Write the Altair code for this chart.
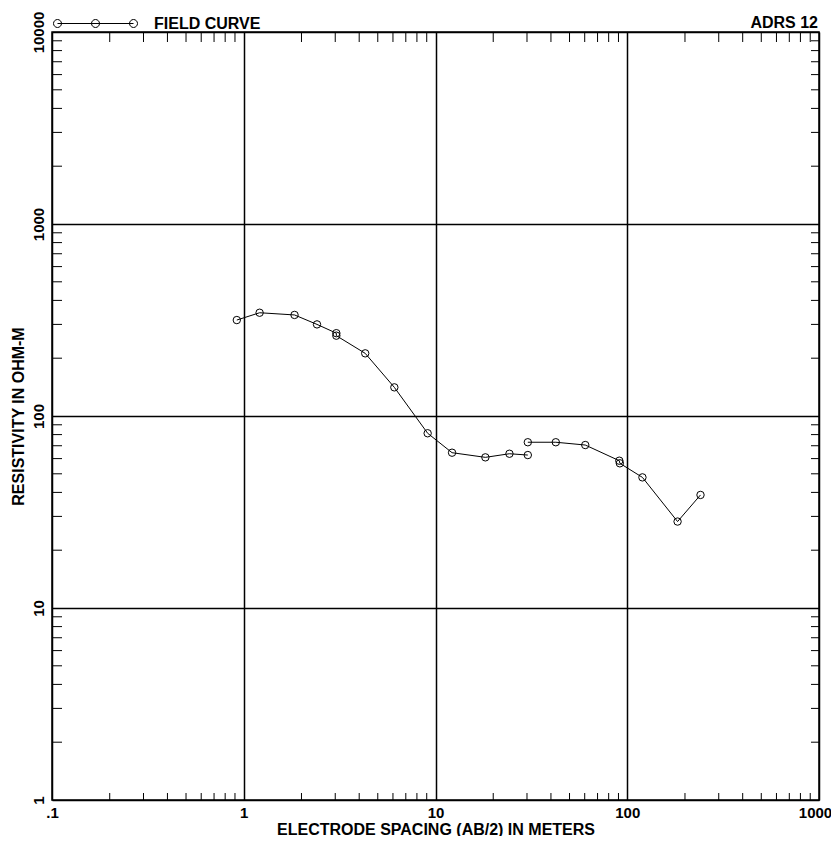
import altair as alt
import pandas as pd

# ---- data ----
seg1_x = [0.92, 1.21, 1.84, 2.41, 3.04, 3.04, 4.3, 6.1, 9.1, 12.2, 18.2, 24.3, 30.3]
seg1_y = [316, 345, 336, 300, 270, 262, 212, 141, 81.3, 64.4, 60.9, 63.6, 62.6]
seg2_x = [30.3, 42.4, 60.4, 90.9, 91.5, 120, 183, 241]
seg2_y = [73.0, 73.0, 70.6, 58.5, 56.7, 47.9, 28.2, 38.8]

x_major = [0.1, 1, 10, 100, 1000]
y_major = [1, 10, 100, 1000, 10000]
minor_mult = [2, 3, 4, 5, 6, 7, 8, 9]
series_name = "FIELD CURVE"
corner_label = "ADRS 12"
x_title = "ELECTRODE SPACING (AB/2) IN METERS"
y_title = "RESISTIVITY IN OHM-M"

rows = []
i = 0
for seg, (xs, ys) in enumerate([(seg1_x, seg1_y), (seg2_x, seg2_y)]):
    for xv, yv in zip(xs, ys):
        rows.append({"x": xv, "y": yv, "seg": seg, "idx": i, "series": series_name})
        i += 1
df = pd.DataFrame(rows)

x_minor = pd.DataFrame({"v": [m * d for d in x_major[:-1] for m in minor_mult]})
y_minor = pd.DataFrame({"v": [m * d for d in y_major[:-1] for m in minor_mult]})

W, H = 767, 768
FONT = "Liberation Sans"
FS = 15   # tick labels
FT = 16   # titles, legend, corner text

xscale = alt.Scale(type="log", domain=[0.1, 1000], nice=False)
yscale = alt.Scale(type="log", domain=[1, 10000], nice=False)

x_axis = alt.Axis(
    values=x_major, grid=True, gridColor="black", gridWidth=1.5, gridOpacity=1,
    domain=False, ticks=False, labelFlush=False, labelOverlap=False,
    labelExpr="replace(format(datum.value, '~g'), '0.', '.')",
    labelFont=FONT, labelFontSize=FS, labelFontWeight="bold", labelColor="black",
    labelPadding=5, labelBaseline="top",
    labelOffset={"condition": {"test": "datum.value >= 1000", "value": -4}, "value": 0},
    title=x_title, titleFont=FONT, titleFontSize=FT, titleFontWeight="bold",
    titleColor="black", titlePadding=1,
)
y_axis = alt.Axis(
    values=y_major, grid=True, gridColor="black", gridWidth=1.5, gridOpacity=1,
    domain=False, ticks=False, labelFlush=False, labelOverlap=False, format="d",
    labelAngle=270, labelAlign="center", labelBaseline="bottom",
    labelFont=FONT, labelFontSize=FS, labelFontWeight="bold", labelColor="black",
    labelPadding=6,
    title=y_title, titleFont=FONT, titleFontSize=FT, titleFontWeight="bold",
    titleColor="black", titlePadding=5,
)

# legend glyph: line through three open circles
r = 0.095
c = 0.905
def circ(cx):
    return f"M{cx + r},0A{r},{r} 0 1,1 {cx - r},0A{r},{r} 0 1,1 {cx + r},0"
legend_path = f"M{-c},0L{c},0" + circ(-c) + circ(0) + circ(c)

color = alt.Color(
    "series:N",
    scale=alt.Scale(domain=[series_name], range=["black"]),
    legend=alt.Legend(
        orient="none", legendX=1, legendY=-51, title=None, padding=0,
        symbolType=legend_path, symbolSize=7056, symbolStrokeColor="black",
        symbolFillColor="transparent", symbolStrokeWidth=1,
        labelFont=FONT, labelFontSize=FT, labelFontWeight="bold",
        labelColor="black", labelOffset=16,
    ),
)

base = alt.Chart(df)
lines = base.mark_line(strokeWidth=1).encode(
    x=alt.X("x:Q", scale=xscale, axis=x_axis),
    y=alt.Y("y:Q", scale=yscale, axis=y_axis),
    color=color,
    detail="seg:N",
    order="idx:Q",
)
points = base.mark_point(shape="circle", filled=False, size=55, strokeWidth=1, opacity=1).encode(
    x=alt.X("x:Q", scale=xscale),
    y=alt.Y("y:Q", scale=yscale),
    color=color,
)

def xticks(y0, y1):
    return alt.Chart(x_minor).mark_rule(color="black", strokeWidth=1).encode(
        x=alt.X("v:Q", scale=xscale), y=alt.value(y0), y2=alt.value(y1))

def yticks(x0, x1):
    return alt.Chart(y_minor).mark_rule(color="black", strokeWidth=1).encode(
        y=alt.Y("v:Q", scale=yscale), x=alt.value(x0), x2=alt.value(x1))

ticks = [xticks(H, H - 7), xticks(0, 10), yticks(0, 10), yticks(W, W - 8)]

corner = alt.Chart(pd.DataFrame({"t": [corner_label]})).mark_text(
    align="right", baseline="alphabetic", font=FONT, fontSize=FT, fontWeight="bold", color="black"
).encode(x=alt.value(W - 1), y=alt.value(-4), text="t:N")

chart = alt.layer(*ticks, lines, points, corner).properties(
    width=W, height=H,
    autosize=alt.AutoSizeParams(type="none"),
    padding={"left": 44, "top": 24, "right": 12, "bottom": 36},
    background="white",
).configure_view(stroke="black", strokeWidth=1.5)

chart.save("out.html", embed_options={"renderer": "svg", "actions": False})
